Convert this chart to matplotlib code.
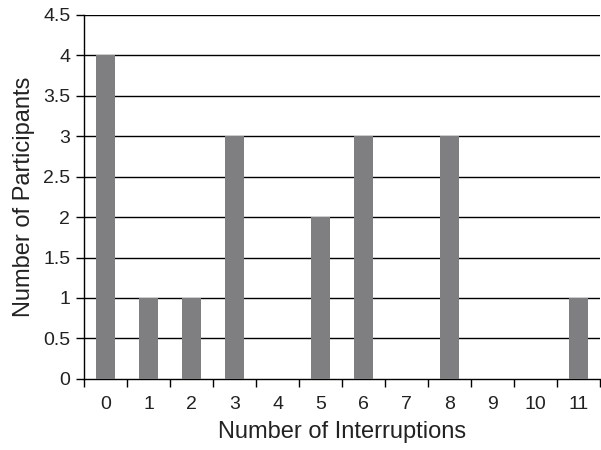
import numpy as np
import matplotlib
matplotlib.use("Agg")
import matplotlib.pyplot as plt

interruptions = ["0", "1", "2", "3", "4", "5", "6", "7", "8", "9", "10", "11"]
participants = [4, 1, 1, 3, 0, 2, 3, 0, 3, 0, 0, 1]
y_ticks = [0, 0.5, 1, 1.5, 2, 2.5, 3, 3.5, 4, 4.5]
y_labels = ["0", "0.5", "1", "1.5", "2", "2.5", "3", "3.5", "4", "4.5"]

plt.rcParams["font.family"] = ["Liberation Sans", "DejaVu Sans"]

fig = plt.figure(figsize=(6.01, 4.5), dpi=100)
ax = fig.add_axes([0.14, 0.158, 0.858, 0.809])

x = np.arange(len(interruptions))
ax.bar(x, participants, width=0.44, color="#7f7f81", zorder=3)

ax.set_xlim(-0.5, len(interruptions) - 0.5)
ax.set_ylim(0, 4.5)
ax.set_yticks(y_ticks)
ax.set_yticklabels(y_labels, fontsize=14, color="#222222")
ax.set_xticks(x)
ax.set_xticklabels(interruptions, fontsize=14, color="#222222")
ax.set_xticks(np.arange(len(interruptions) + 1) - 0.5, minor=True)
ax.tick_params(axis="x", which="major", length=0, pad=12)
ax.tick_params(axis="x", which="minor", length=6, direction="out", width=1)
ax.tick_params(axis="y", length=6, direction="out", width=1, pad=4)

for v in y_ticks[1:]:
    ax.axhline(v, color="black", linewidth=1, zorder=1)

ax.spines["top"].set_visible(False)
ax.spines["right"].set_visible(False)
ax.spines["left"].set_linewidth(1)
ax.spines["bottom"].set_linewidth(1)

ax.set_xlabel("Number of Interruptions", fontsize=17, labelpad=6, color="#222222")
ax.set_ylabel("Number of Participants", fontsize=17, labelpad=6, color="#222222")

fig.savefig("out.png", dpi=100)
